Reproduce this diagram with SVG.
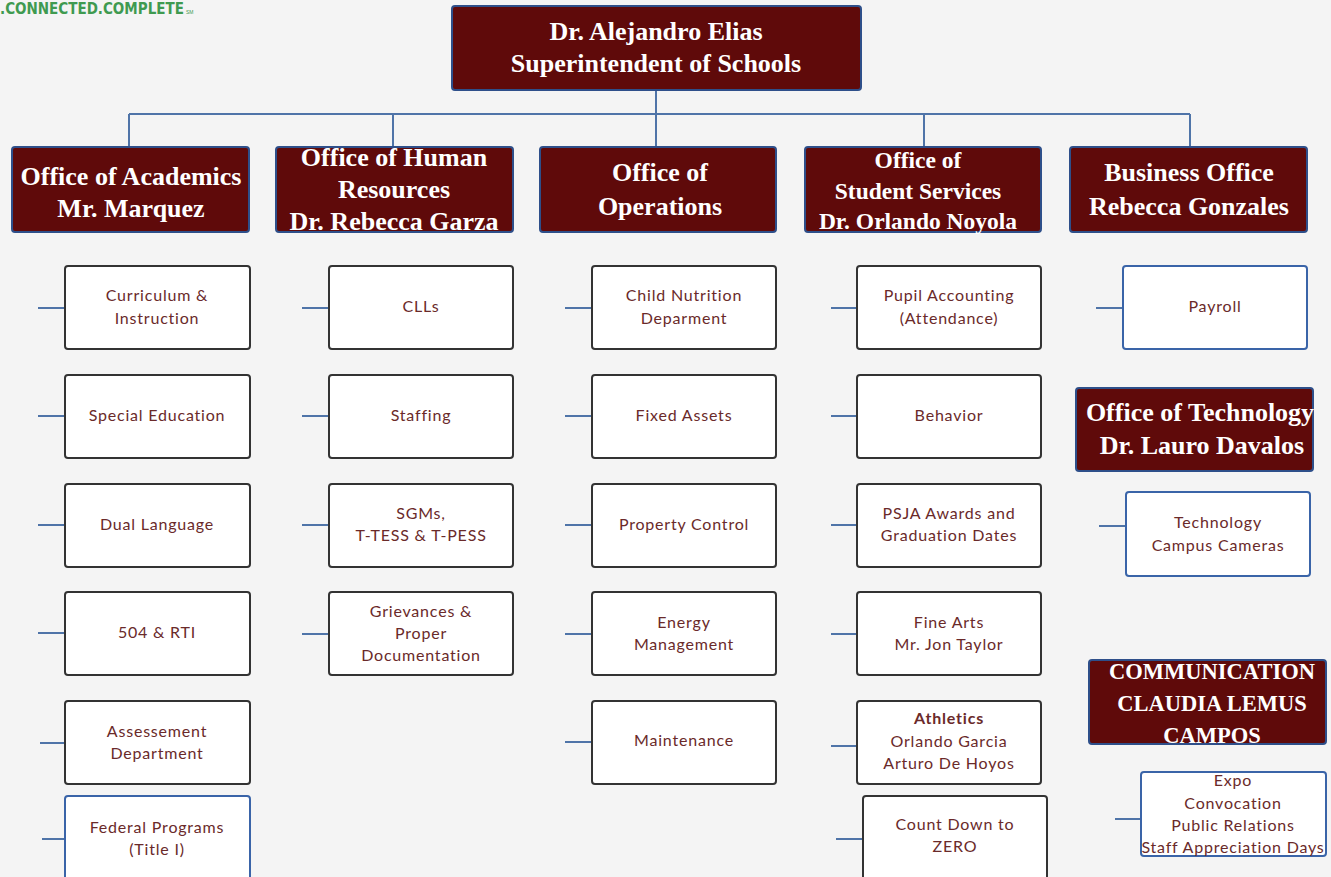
<svg xmlns="http://www.w3.org/2000/svg" width="1331" height="877" viewBox="0 0 1331 877">
<style>
.bg{fill:#f4f4f4}
.hd{fill:#5f0a0a;stroke:#2e4f8a;stroke-width:2}
.ht{font-family:"Liberation Serif",serif;font-size:26px;font-weight:bold;fill:#ffffff;text-anchor:middle}
.ht.s{font-size:23.5px}
.ht.c{font-size:22.5px}
.bx{fill:#ffffff;stroke:#333333;stroke-width:2}
.bb{fill:#ffffff;stroke:#3a64a8;stroke-width:2}
.bt{font-family:Lato,"Liberation Sans",sans-serif;font-size:16px;letter-spacing:0.8px;fill:#6a2a2a;text-anchor:middle}
.bt.b{font-weight:bold}
.ln{stroke:#4f74a8;stroke-width:2;fill:none}
</style>
<rect class="bg" x="0" y="0" width="1331" height="877"/>
<g id="logo">
<text x="0" y="14" font-family="'DejaVu Sans Condensed',sans-serif" font-size="15" font-weight="bold" fill="#3f9a50">.CONNECTED.COMPLETE</text>
<text x="186" y="14" font-family="'Liberation Sans',sans-serif" font-size="5" fill="#3f9a50">SM</text>
</g>

<g id="connectors">
<path class="ln" d="M656 90V114M129 114H1190M129 114V147M393 114V147M656 114V147M924 114V147M1190 114V147"/>
<path class="ln" d="M38 308H65M38 416H65M38 525H65M38 633H65M40 743H65M42 839H65"/>
<path class="ln" d="M302 308H329M302 416H329M302 525H329M302 634H329"/>
<path class="ln" d="M565 308H592M565 416H592M565 525H592M565 634H592M565 742H592"/>
<path class="ln" d="M831 308H857M831 416H857M831 525H857M831 634H857M831 746H857M836 839H863"/>
<path class="ln" d="M1096 308H1123M1099 526H1126M1115 819H1141"/>
</g>

<g id="superintendent"><rect class="hd" x="452" y="6" width="409" height="84" rx="3"/><text class="ht" x="656" y="40">Dr. Alejandro Elias</text><text class="ht" x="656" y="72">Superintendent of Schools</text></g>

<g id="academics"><rect class="hd" x="12" y="147" width="237" height="85" rx="3"/><text class="ht" x="131" y="185">Office of Academics</text><text class="ht" x="131" y="217">Mr. Marquez</text></g>
<g id="hr"><rect class="hd" x="276" y="147" width="237" height="85" rx="3"/><text class="ht" x="394" y="166">Office of Human</text><text class="ht" x="394" y="198">Resources</text><text class="ht" x="394" y="230">Dr. Rebecca Garza</text></g>
<g id="operations"><rect class="hd" x="540" y="147" width="236" height="85" rx="3"/><text class="ht" x="660" y="181">Office of</text><text class="ht" x="660" y="215">Operations</text></g>
<g id="student-services"><rect class="hd" x="805" y="147" width="236" height="85" rx="3"/><text class="ht s" x="918" y="168">Office of</text><text class="ht s" x="918" y="199">Student Services</text><text class="ht s" x="918" y="229">Dr. Orlando Noyola</text></g>
<g id="business"><rect class="hd" x="1070" y="147" width="237" height="85" rx="3"/><text class="ht" x="1189" y="181">Business Office</text><text class="ht" x="1189" y="215">Rebecca Gonzales</text></g>

<g id="curriculum"><rect class="bx" x="65" y="266" width="185" height="83" rx="3"/><text class="bt" x="157" y="301">Curriculum &amp;</text><text class="bt" x="157" y="324">Instruction</text></g>
<g id="sped"><rect class="bx" x="65" y="375" width="185" height="83" rx="3"/><text class="bt" x="157" y="421">Special Education</text></g>
<g id="dual"><rect class="bx" x="65" y="484" width="185" height="83" rx="3"/><text class="bt" x="157" y="530">Dual Language</text></g>
<g id="rti"><rect class="bx" x="65" y="592" width="185" height="83" rx="3"/><text class="bt" x="157" y="638">504 &amp; RTI</text></g>
<g id="assessment"><rect class="bx" x="65" y="701" width="185" height="83" rx="3"/><text class="bt" x="157" y="737">Assessement</text><text class="bt" x="157" y="759">Department</text></g>
<g id="federal"><rect class="bb" x="65" y="796" width="185" height="85" rx="3"/><text class="bt" x="157" y="833">Federal Programs</text><text class="bt" x="157" y="855">(Title I)</text></g>

<g id="clls"><rect class="bx" x="329" y="266" width="184" height="83" rx="3"/><text class="bt" x="421" y="312">CLLs</text></g>
<g id="staffing"><rect class="bx" x="329" y="375" width="184" height="83" rx="3"/><text class="bt" x="421" y="421">Staffing</text></g>
<g id="sgms"><rect class="bx" x="329" y="484" width="184" height="83" rx="3"/><text class="bt" x="421" y="519">SGMs,</text><text class="bt" x="421" y="541">T-TESS &amp; T-PESS</text></g>
<g id="grievances"><rect class="bx" x="329" y="592" width="184" height="83" rx="3"/><text class="bt" x="421" y="617">Grievances &amp;</text><text class="bt" x="421" y="639">Proper</text><text class="bt" x="421" y="661">Documentation</text></g>

<g id="nutrition"><rect class="bx" x="592" y="266" width="184" height="83" rx="3"/><text class="bt" x="684" y="301">Child Nutrition</text><text class="bt" x="684" y="324">Deparment</text></g>
<g id="assets"><rect class="bx" x="592" y="375" width="184" height="83" rx="3"/><text class="bt" x="684" y="421">Fixed Assets</text></g>
<g id="property"><rect class="bx" x="592" y="484" width="184" height="83" rx="3"/><text class="bt" x="684" y="530">Property Control</text></g>
<g id="energy"><rect class="bx" x="592" y="592" width="184" height="83" rx="3"/><text class="bt" x="684" y="628">Energy</text><text class="bt" x="684" y="650">Management</text></g>
<g id="maintenance"><rect class="bx" x="592" y="701" width="184" height="83" rx="3"/><text class="bt" x="684" y="746">Maintenance</text></g>

<g id="pupil"><rect class="bx" x="857" y="266" width="184" height="83" rx="3"/><text class="bt" x="949" y="301">Pupil Accounting</text><text class="bt" x="949" y="324">(Attendance)</text></g>
<g id="behavior"><rect class="bx" x="857" y="375" width="184" height="83" rx="3"/><text class="bt" x="949" y="421">Behavior</text></g>
<g id="awards"><rect class="bx" x="857" y="484" width="184" height="83" rx="3"/><text class="bt" x="949" y="519">PSJA Awards and</text><text class="bt" x="949" y="541">Graduation Dates</text></g>
<g id="finearts"><rect class="bx" x="857" y="592" width="184" height="83" rx="3"/><text class="bt" x="949" y="628">Fine Arts</text><text class="bt" x="949" y="650">Mr. Jon Taylor</text></g>
<g id="athletics"><rect class="bx" x="857" y="701" width="184" height="83" rx="3"/><text class="bt b" x="949" y="724">Athletics</text><text class="bt" x="949" y="747">Orlando Garcia</text><text class="bt" x="949" y="769">Arturo De Hoyos</text></g>
<g id="countdown"><rect class="bx" x="863" y="796" width="184" height="85" rx="3"/><text class="bt" x="955" y="830">Count Down to</text><text class="bt" x="955" y="852">ZERO</text></g>

<g id="payroll"><rect class="bb" x="1123" y="266" width="184" height="83" rx="3"/><text class="bt" x="1215" y="312">Payroll</text></g>
<g id="technology-office"><rect class="hd" x="1076" y="388" width="237" height="83" rx="3"/><text class="ht" x="1200" y="421">Office of Technology</text><text class="ht" x="1202" y="454">Dr. Lauro Davalos</text></g>
<g id="technology"><rect class="bb" x="1126" y="492" width="184" height="84" rx="3"/><text class="bt" x="1218" y="528">Technology</text><text class="bt" x="1218" y="551">Campus Cameras</text></g>
<g id="communication"><rect class="hd" x="1089" y="660" width="237" height="84" rx="3"/><text class="ht c" x="1212" y="679">COMMUNICATION</text><text class="ht c" x="1212" y="711">CLAUDIA LEMUS</text><text class="ht c" x="1212" y="743">CAMPOS</text></g>
<g id="expo"><rect class="bb" x="1141" y="772" width="185" height="84" rx="3"/><text class="bt" x="1233" y="786">Expo</text><text class="bt" x="1233" y="809">Convocation</text><text class="bt" x="1233" y="831">Public Relations</text><text class="bt" x="1233" y="853">Staff Appreciation Days</text></g>
</svg>
